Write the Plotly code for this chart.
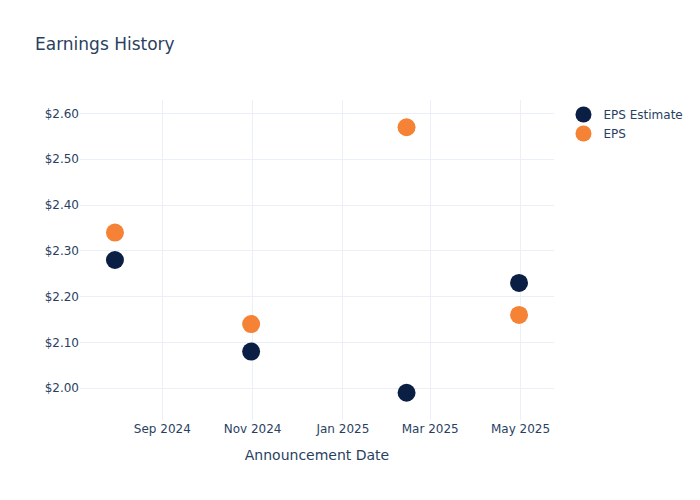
import plotly.graph_objs as go

# Announcement dates and EPS values
dates = ['2024-07-31', '2024-10-31', '2025-02-13', '2025-04-30']
eps_estimate = [2.28, 2.08, 1.99, 2.23]
eps_actual = [2.34, 2.14, 2.57, 2.16]

fig = go.Figure()

fig.add_trace(go.Scatter(
    x=dates,
    y=eps_estimate,
    mode='markers',
    name='EPS Estimate',
    marker=dict(color='#0b1f44', size=18)
))

fig.add_trace(go.Scatter(
    x=dates,
    y=eps_actual,
    mode='markers',
    name='EPS',
    marker=dict(color='#f58235', size=18)
))

# page body adds an 8px offset, so the figure is shrunk to fit the window
fig.update_layout(
    template='plotly_white',
    font=dict(family='DejaVu Sans'),
    title=dict(text='Earnings History', x=27 / 692, xanchor='left',
               yref='container', y=1 - 36 / 492, yanchor='middle'),
    xaxis_title='Announcement Date',
    yaxis=dict(tickprefix='$', tickformat='.2f'),
    width=692,
    height=492,
    margin=dict(l=72, r=80, t=92, b=80),
)

fig.write_html("out.html")
